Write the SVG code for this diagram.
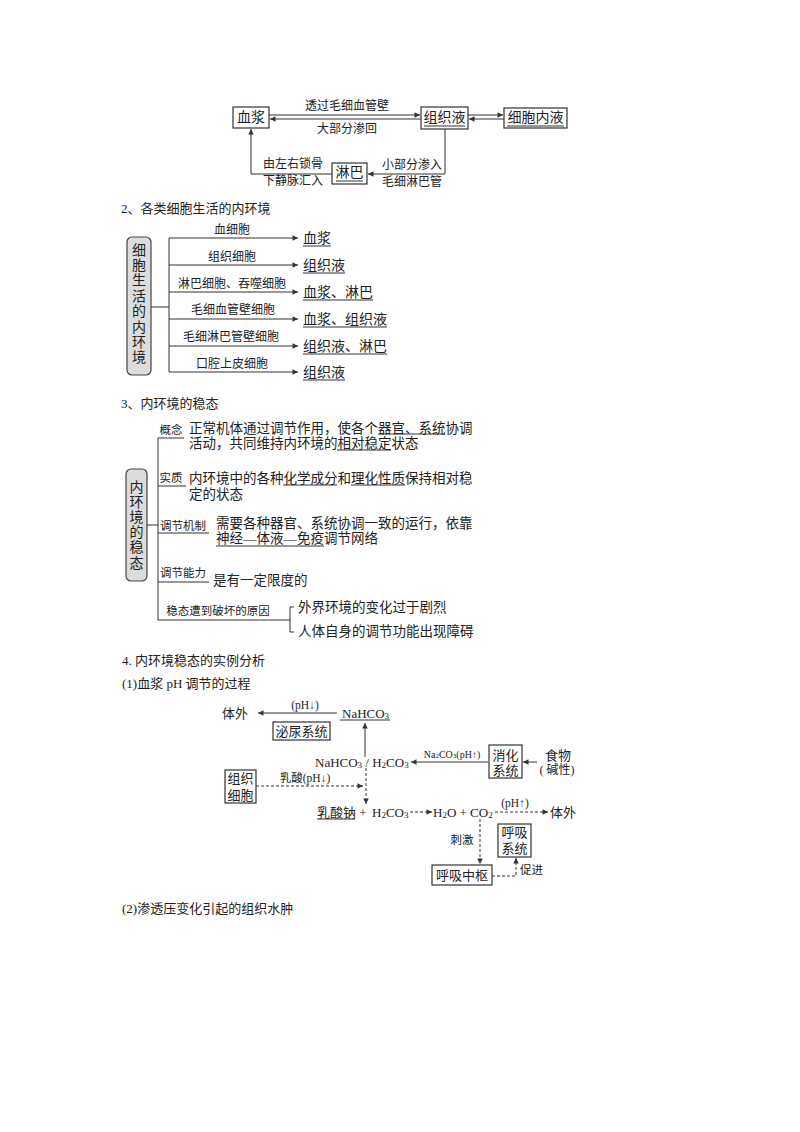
<svg xmlns="http://www.w3.org/2000/svg" width="800" height="1132" viewBox="0 0 800 1132">
<defs>
<marker id="ah" viewBox="0 0 10 10" refX="10" refY="5" markerWidth="7" markerHeight="5.5" orient="auto" markerUnits="userSpaceOnUse">
<path d="M0,0 L10,5 L0,10 z" fill="#333"/>
</marker>
<style>
text { font-family: "Liberation Serif", "Noto Sans CJK SC", serif; fill: #222; dominant-baseline: central; }
.m { text-anchor: middle; }
.f10 { font-size: 10px; }
.f11 { font-size: 11.5px; }
.f12 { font-size: 12px; }
.f13 { font-size: 13px; }
.f135 { font-size: 13.5px; }
.f14 { font-size: 14px; }
.ln { stroke: #333; stroke-width: 1; fill: none; }
.arr { marker-end: url(#ah); }
.dash { stroke-dasharray: 3 2; }
.box { fill: #fff; stroke: #333; stroke-width: 1.2; }
.gbox { fill: #dcdcdc; stroke: #444; stroke-width: 1.2; }
.u { stroke: #333; stroke-width: 1; }
</style>
</defs>
<rect width="800" height="1132" fill="#fff"/>

<!-- ===== Section 1: top flow ===== -->
<g id="plasma">
<rect class="box" x="233" y="107" width="36" height="21"/>
<text class="m f14" x="251" y="117.5">血浆</text>
</g>
<g id="tissue-fluid">
<rect class="box" x="421" y="107" width="47" height="22"/>
<text class="m f14" x="444.5" y="117">组织液</text>
<line class="u" x1="424" y1="126" x2="465" y2="126"/>
</g>
<g id="intracellular-fluid">
<rect class="box" x="504" y="108" width="63" height="20"/>
<text class="m f14" x="535.5" y="117">细胞内液</text>
<line class="u" x1="507" y1="126" x2="564" y2="126"/>
</g>
<g id="lymph">
<rect class="box" x="332" y="163" width="35" height="21"/>
<text class="m f14" x="349.5" y="172.5">淋巴</text>
<line class="u" x1="336" y1="181" x2="363" y2="181"/>
</g>
<g id="connectors-top">
<line class="ln arr" x1="269" y1="115" x2="420" y2="115"/>
<line class="ln arr" x1="421" y1="119" x2="270" y2="119"/>
<line class="ln arr" x1="468" y1="115" x2="503" y2="115"/>
<line class="ln arr" x1="504" y1="119" x2="469" y2="119"/>
<path class="ln arr" d="M445,129 V174 H368"/>
<path class="ln arr" d="M332,174 H251 V129"/>
</g>
<g id="labels-top">
<text class="m f12" x="347" y="106">透过毛细血管壁</text>
<text class="m f12" x="347" y="129">大部分渗回</text>
<text class="f12" x="263" y="164">由左右锁骨</text>
<text class="f12" x="263" y="181">下静脉汇入</text>
<text class="f12" x="382" y="165">小部分渗入</text>
<text class="f12" x="382" y="182">毛细淋巴管</text>
</g>

<!-- ===== Section 2 ===== -->
<text class="f13" x="121" y="208">2、各类细胞生活的内环境</text>
<g id="cell-env-root">
<rect class="gbox" x="127" y="237" width="24" height="138" rx="5"/>
<text class="m f14" x="139" y="250">细</text>
<text class="m f14" x="139" y="265.4">胞</text>
<text class="m f14" x="139" y="280.8">生</text>
<text class="m f14" x="139" y="296.2">活</text>
<text class="m f14" x="139" y="311.6">的</text>
<text class="m f14" x="139" y="327">内</text>
<text class="m f14" x="139" y="342.4">环</text>
<text class="m f14" x="139" y="357.8">境</text>
</g>
<g id="connectors-sec2">
<line class="ln" x1="151" y1="307" x2="169" y2="307"/>
<line class="ln" x1="169" y1="238" x2="169" y2="372"/>
<line class="ln arr" x1="169" y1="238" x2="298" y2="238"/>
<line class="ln arr" x1="169" y1="265" x2="298" y2="265"/>
<line class="ln arr" x1="169" y1="292" x2="298" y2="292"/>
<line class="ln arr" x1="169" y1="319" x2="298" y2="319"/>
<line class="ln arr" x1="169" y1="346" x2="298" y2="346"/>
<line class="ln arr" x1="169" y1="372" x2="298" y2="372"/>
</g>
<g id="cells-labels">
<text class="m f12" x="232" y="230">血细胞</text>
<text class="m f12" x="232" y="257">组织细胞</text>
<text class="m f12" x="232" y="284">淋巴细胞、吞噬细胞</text>
<text class="m f12" x="233" y="310">毛细血管壁细胞</text>
<text class="m f12" x="231" y="337">毛细淋巴管壁细胞</text>
<text class="m f12" x="232" y="364">口腔上皮细胞</text>
</g>
<g id="env-results">
<text class="f14" x="303" y="238">血浆</text>
<line class="u" x1="303" y1="246" x2="331" y2="246"/>
<text class="f14" x="303" y="265">组织液</text>
<line class="u" x1="303" y1="273" x2="345" y2="273"/>
<text class="f14" x="303" y="292">血浆、淋巴</text>
<line class="u" x1="303" y1="300" x2="373" y2="300"/>
<text class="f14" x="303" y="319">血浆、组织液</text>
<line class="u" x1="303" y1="327" x2="387" y2="327"/>
<text class="f14" x="303" y="346">组织液、淋巴</text>
<line class="u" x1="303" y1="354" x2="387" y2="354"/>
<text class="f14" x="303" y="372">组织液</text>
<line class="u" x1="303" y1="380" x2="345" y2="380"/>
</g>

<!-- ===== Section 3 ===== -->
<text class="f13" x="121" y="403">3、内环境的稳态</text>
<g id="homeostasis-root">
<rect class="gbox" x="126" y="469" width="21" height="112" rx="5"/>
<text class="m f14" x="136.5" y="487">内</text>
<text class="m f14" x="136.5" y="502.2">环</text>
<text class="m f14" x="136.5" y="517.4">境</text>
<text class="m f14" x="136.5" y="532.6">的</text>
<text class="m f14" x="136.5" y="547.8">稳</text>
<text class="m f14" x="136.5" y="563">态</text>
</g>
<g id="connectors-sec3">
<line class="ln" x1="147" y1="525" x2="158" y2="525"/>
<line class="ln" x1="158" y1="438" x2="158" y2="620"/>
<line class="ln" x1="158" y1="438" x2="184" y2="438"/>
<line class="ln" x1="158" y1="486" x2="186" y2="486"/>
<line class="ln" x1="158" y1="533" x2="209" y2="533"/>
<line class="ln" x1="158" y1="582" x2="209" y2="582"/>
<line class="ln" x1="158" y1="620" x2="290" y2="620"/>
<path class="ln" d="M294,607 H290 V632 H294"/>
</g>
<g id="concept">
<text class="m f11" x="171" y="430">概念</text>
<text class="f135" x="189" y="428">正常机体通过调节作用，使各个器官、系统协调</text>
<line class="u" x1="378" y1="434" x2="445" y2="434"/>
<text class="f135" x="189" y="443">活动，共同维持内环境的相对稳定状态</text>
<line class="u" x1="337" y1="450" x2="391" y2="450"/>
</g>
<g id="essence">
<text class="m f11" x="171" y="478">实质</text>
<text class="f135" x="189" y="478">内环境中的各种化学成分和理化性质保持相对稳</text>
<line class="u" x1="283" y1="485" x2="337" y2="485"/>
<line class="u" x1="351" y1="485" x2="405" y2="485"/>
<text class="f135" x="189" y="494">定的状态</text>
</g>
<g id="mechanism">
<text class="m f11" x="183" y="526">调节机制</text>
<text class="f135" x="216" y="523">需要各种器官、系统协调一致的运行，依靠</text>
<text class="f135" x="216" y="538">神经—体液—免疫调节网络</text>
<line class="u" x1="216" y1="546" x2="324" y2="546"/>
</g>
<g id="capacity">
<text class="m f11" x="183" y="573">调节能力</text>
<text class="f135" x="213" y="580">是有一定限度的</text>
</g>
<g id="disruption">
<text class="m f11" x="218" y="611">稳态遭到破坏的原因</text>
<text class="f135" x="298" y="607">外界环境的变化过于剧烈</text>
<text class="f135" x="298" y="631">人体自身的调节功能出现障碍</text>
</g>

<!-- ===== Section 4 ===== -->
<text class="f13" x="122" y="660">4. 内环境稳态的实例分析</text>
<text class="f13" x="122" y="683">(1)血浆 pH 调节的过程</text>

<g id="outside-1">
<text class="m f13" x="235" y="713">体外</text>
</g>
<g id="nahco3-top">
<text class="f13" x="342" y="713">NaHCO<tspan font-size="9" dy="3">3</tspan></text>
<line class="u" x1="340" y1="720" x2="390" y2="720"/>
</g>
<g id="urinary-system">
<rect class="box" x="273" y="722" width="57" height="18"/>
<text class="m f13" x="301.5" y="731">泌尿系统</text>
</g>
<g id="buffer-pair">
<text class="f13" x="315" y="762">NaHCO<tspan font-size="9" dy="3">3</tspan><tspan dy="-3"> / H</tspan><tspan font-size="9" dy="3">2</tspan><tspan dy="-3">CO</tspan><tspan font-size="9" dy="3">3</tspan></text>
</g>
<g id="digestive-system">
<rect class="box" x="489" y="745" width="33" height="33"/>
<text class="m f13" x="505.5" y="755">消化</text>
<text class="m f13" x="505.5" y="770">系统</text>
</g>
<g id="food">
<text class="m f13" x="558" y="755">食物</text>
<text class="m f12" x="557" y="770">( 碱性)</text>
</g>
<g id="tissue-cells">
<rect class="box" x="225" y="770" width="31" height="33"/>
<text class="m f13" x="240.5" y="778">组织</text>
<text class="m f13" x="240.5" y="795">细胞</text>
</g>
<g id="reaction">
<text class="f13" x="317" y="812">乳酸钠</text>
<line class="u" x1="317" y1="819" x2="355" y2="819"/>
<text class="m f13" x="363" y="812">+</text>
<text class="f13" x="372" y="812">H<tspan font-size="9" dy="3">2</tspan><tspan dy="-3">CO</tspan><tspan font-size="9" dy="3">3</tspan></text>
<text class="f13" x="433" y="812">H<tspan font-size="9" dy="3">2</tspan><tspan dy="-3">O + CO</tspan><tspan font-size="9" dy="3">2</tspan></text>
</g>
<g id="outside-2">
<text class="m f13" x="563" y="812">体外</text>
</g>
<g id="respiratory-system">
<rect class="box" x="498" y="824" width="33" height="33"/>
<text class="m f13" x="514.5" y="832">呼吸</text>
<text class="m f13" x="514.5" y="848">系统</text>
</g>
<g id="respiratory-center">
<rect class="box" x="432" y="865" width="60" height="20"/>
<text class="m f13" x="462" y="875">呼吸中枢</text>
</g>
<g id="connectors-ph">
<line class="ln arr" x1="337" y1="713" x2="258" y2="713"/>
<line class="ln arr" x1="365" y1="757" x2="365" y2="723"/>
<line class="ln arr" x1="488" y1="762" x2="411" y2="762"/>
<line class="ln arr" x1="537" y1="762" x2="523" y2="762"/>
<line class="ln dash arr" x1="256" y1="786" x2="363" y2="786"/>
<line class="ln dash arr" x1="366" y1="768" x2="366" y2="804"/>
<line class="ln dash arr" x1="410" y1="812" x2="432" y2="812"/>
<line class="ln dash arr" x1="495" y1="812" x2="548" y2="812"/>
<line class="ln dash arr" x1="480" y1="819" x2="480" y2="864"/>
<path class="ln dash arr" d="M492,876 H516 V858"/>
</g>
<g id="labels-ph">
<text class="m f11" x="305" y="705">(pH↓)</text>
<text class="m f10" x="452" y="754">Na<tspan font-size="7" dy="2">2</tspan><tspan dy="-2">CO</tspan><tspan font-size="7" dy="2">3</tspan><tspan dy="-2">(pH↑)</tspan></text>
<text class="m f11" x="305" y="778">乳酸(pH↓)</text>
<text class="m f11" x="515" y="803">(pH↑)</text>
<text class="m f11" x="462" y="840">刺激</text>
<text class="f11" x="520" y="870">促进</text>
</g>

<text class="f13" x="122" y="908">(2)渗透压变化引起的组织水肿</text>
</svg>
